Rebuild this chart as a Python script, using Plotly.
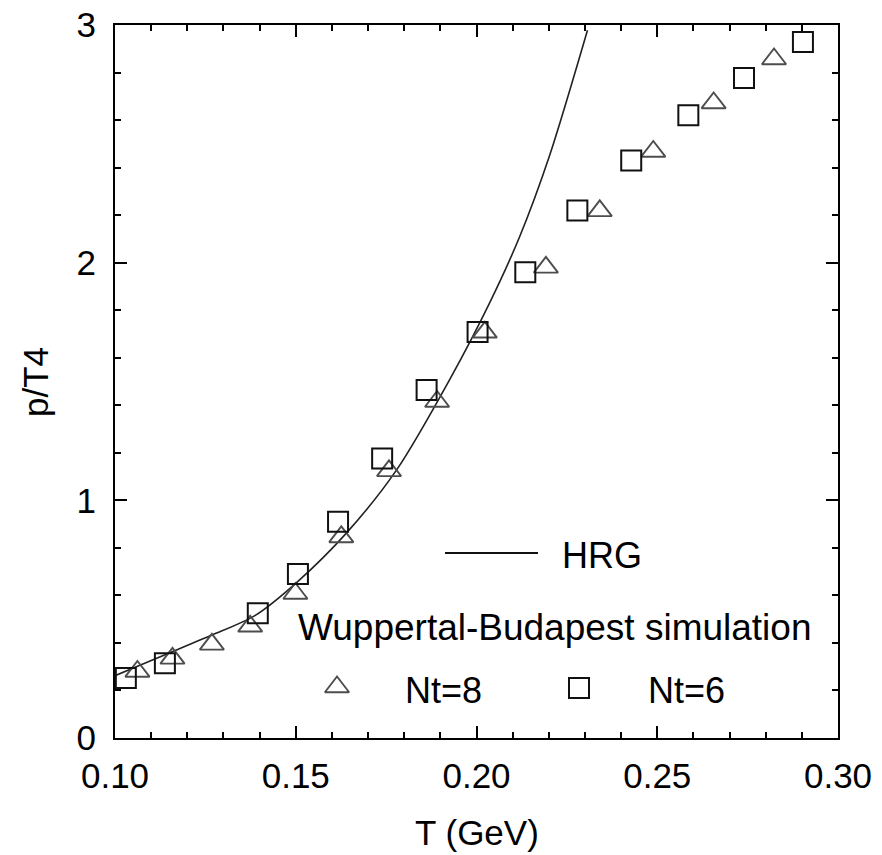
import plotly.graph_objects as go

# ---- data ----
hrg_T = [0.1000, 0.1064, 0.1157, 0.1268, 0.1387, 0.1503, 0.1640, 0.1779, 0.1925, 0.2036, 0.2119, 0.2202, 0.2307]
hrg_p = [0.262, 0.303, 0.362, 0.433, 0.515, 0.655, 0.862, 1.128, 1.506, 1.830, 2.108, 2.450, 2.978]

nt8_T = [0.1062, 0.1159, 0.1268, 0.1374, 0.1499, 0.1626, 0.1758, 0.1891, 0.2023, 0.2192, 0.2341, 0.2489, 0.2656, 0.2823]
nt8_p = [0.280, 0.335, 0.394, 0.470, 0.608, 0.846, 1.124, 1.416, 1.707, 1.980, 2.218, 2.468, 2.672, 2.857]

nt6_T = [0.1030, 0.1138, 0.1395, 0.1506, 0.1617, 0.1739, 0.1862, 0.2003, 0.2135, 0.2279, 0.2428, 0.2586, 0.2740, 0.2903]
nt6_p = [0.252, 0.315, 0.525, 0.690, 0.910, 1.176, 1.464, 1.708, 1.960, 2.220, 2.430, 2.620, 2.777, 2.928]

x_ticks = [0.10, 0.15, 0.20, 0.25, 0.30]
x_ticklabels = ["0.10", "0.15", "0.20", "0.25", "0.30"]
y_ticks = [0, 1, 2, 3]
y_ticklabels = ["0", "1", "2", "3"]

legend_hrg = "HRG"
legend_group = "Wuppertal-Budapest simulation"
legend_nt8 = "Nt=8"
legend_nt6 = "Nt=6"
x_title = "T (GeV)"
y_title = "p/T4"

FONT = "Liberation Sans, Arial, sans-serif"
W, H = 882, 855
L, R, T, B = 115, 838, 25, 738


def px(xp):
    return (xp - L) / (R - L)


def py(yp):
    return (B - yp) / (B - T)


TRI = dict(symbol="triangle-up-open", size=21, color="#4d4d4d", line=dict(width=1.9, color="#4d4d4d"))
SQR = dict(symbol="square-open", size=20, color="#111111", line=dict(width=2, color="#111111"))

fig = go.Figure()

fig.add_trace(go.Scatter(x=hrg_T, y=hrg_p, mode="lines",
                         line=dict(color="#222222", width=1.6, shape="spline", smoothing=0.8),
                         showlegend=False, hoverinfo="skip"))
fig.add_trace(go.Scatter(x=nt8_T, y=nt8_p, mode="markers", marker=TRI, showlegend=False))
fig.add_trace(go.Scatter(x=nt6_T, y=nt6_p, mode="markers", marker=SQR, showlegend=False))

# legend symbols on an overlay axis spanning the plot area (0..1)
fig.add_trace(go.Scatter(x=[px(337)], y=[py(687)], xaxis="x2", yaxis="y2", mode="markers",
                         marker=TRI, showlegend=False, hoverinfo="skip"))
fig.add_trace(go.Scatter(x=[px(579)], y=[py(688)], xaxis="x2", yaxis="y2", mode="markers",
                         marker=SQR, showlegend=False, hoverinfo="skip"))

fig.add_shape(type="line", xref="paper", yref="paper", x0=px(445), x1=px(538), y0=py(553), y1=py(553),
              line=dict(color="#111111", width=2))

ann_font = dict(family=FONT, size=37, color="black")
fig.add_annotation(xref="paper", yref="paper", x=px(560), y=py(555), text=legend_hrg, showarrow=False,
                   xanchor="left", yanchor="middle", font=dict(family=FONT, size=36, color="black"))
fig.add_annotation(xref="paper", yref="paper", x=px(296), y=py(627), text=legend_group, showarrow=False,
                   xanchor="left", yanchor="middle", font=ann_font)
fig.add_annotation(xref="paper", yref="paper", x=px(403), y=py(690), text=legend_nt8, showarrow=False,
                   xanchor="left", yanchor="middle", font=dict(family=FONT, size=36, color="black"))
fig.add_annotation(xref="paper", yref="paper", x=px(646), y=py(690), text=legend_nt6, showarrow=False,
                   xanchor="left", yanchor="middle", font=dict(family=FONT, size=36, color="black"))

title_font = dict(family=FONT, size=35, color="black")
fig.add_annotation(xref="paper", yref="paper", x=0.5, y=py(832), text=x_title, showarrow=False,
                   xanchor="center", yanchor="middle", font=title_font)
fig.add_annotation(xref="paper", yref="paper", x=px(35), y=py(382), text=y_title, showarrow=False, textangle=-90,
                   xanchor="center", yanchor="middle", font=title_font)

axis_common = dict(showline=True, linecolor="black", linewidth=2, mirror="ticks", ticks="inside",
                   tickcolor="black", tickwidth=2, ticklen=12, showgrid=False, zeroline=False,
                   automargin=False, tickfont=dict(family=FONT, size=35, color="black"))

fig.update_layout(
    width=W, height=H,
    margin=dict(l=L, r=W - R, t=T, b=H - B),
    paper_bgcolor="white", plot_bgcolor="white",
    xaxis=dict(range=[0.10, 0.30], tickvals=x_ticks, ticktext=x_ticklabels,
               minor=dict(dtick=0.01, tick0=0.10, ticks="inside", ticklen=6, tickwidth=2, tickcolor="black"),
               ticklabelstandoff=6, **axis_common),
    yaxis=dict(range=[0, 3], tickvals=y_ticks, ticktext=y_ticklabels,
               minor=dict(dtick=0.2, tick0=0, ticks="inside", ticklen=6, tickwidth=2, tickcolor="black"),
               ticklabelstandoff=10, **axis_common),
    xaxis2=dict(range=[0, 1], overlaying="x", visible=False),
    yaxis2=dict(range=[0, 1], overlaying="y", visible=False),
    showlegend=False,
)

fig.write_html("out.html")
